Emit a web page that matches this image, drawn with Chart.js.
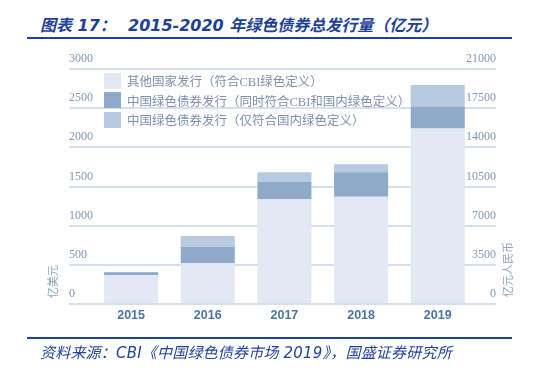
<!DOCTYPE html>
<html>
<head>
<meta charset="utf-8">
<script src="https://cdn.jsdelivr.net/npm/chart.js@4/dist/chart.umd.min.js"></script>
<style>
  body { margin: 0; background: #fff; }
  #wrap { position: relative; width: 550px; height: 368px; overflow: hidden; }
  #chart-box { position: absolute; left: 0; top: 0; width: 550px; height: 368px; }
  .rule { position: absolute; left: 27px; width: 485px; height: 2px; background: #1b3f9c; }
  .title { position: absolute; top: 12px; height: 22px; line-height: 22px; white-space: nowrap;
    font: italic bold 16px "DejaVu Sans", "Noto Sans CJK SC", sans-serif; color: #1d3f95; }
  #source { position: absolute; left: 40px; top: 341px; line-height: 20px; white-space: nowrap; letter-spacing: 0.2px;
    font: italic 15px "DejaVu Sans", "Noto Sans CJK SC", sans-serif; color: #2343a0; }
  #legend { position: absolute; left: 104px; top: 71px; }
  .lg-row { display: flex; align-items: center; height: 19.5px; }
  .lg-box { width: 17px; height: 16px; margin-right: 6px; }
  .lg-text { font: 12.5px "Liberation Serif", "Noto Sans CJK SC", serif; color: #7d91b4; white-space: nowrap; }
</style>
</head>
<body>
<div id="wrap">
  <div class="title" style="left:40px">图表 17：</div>
  <div class="title" style="left:128px">2015-2020 年绿色债券总发行量（亿元）</div>
  <div class="rule" style="top:37px"></div>
  <div id="chart-box"><canvas id="chart"></canvas></div>
  <div id="legend"></div>
  <div class="rule" style="top:337px"></div>
  <div id="source">资料来源：CBI《中国绿色债券市场 2019》，国盛证券研究所</div>
</div>
<script>
// 数据（亿美元）
const years = ['2015', '2016', '2017', '2018', '2019'];
const otherCountries = [370, 520, 1337, 1370, 2239];
const chinaBoth = [35, 212, 221, 312, 281];
const chinaDomesticOnly = [4, 136, 124, 102, 277];

const seriesNames = [
    '其他国家发行（符合CBI绿色定义）',
    '中国绿色债券发行（同时符合CBI和国内绿色定义）',
    '中国绿色债券发行（仅符合国内绿色定义）'
];
const seriesColors = ['#e2e9f3', '#8eaac9', '#b8cae0'];

const leftTicks = [0, 500, 1000, 1500, 2000, 2500, 3000];
const rightTicks = [0, 3500, 7000, 10500, 14000, 17500, 21000];
const leftTitle = '亿美元';
const rightTitle = '亿元人民币';

// 两侧竖排单位（从下往上读）
const axisTitles = {
    id: 'axisTitles',
    afterDraw(chart) {
        const ctx = chart.ctx;
        const area = chart.chartArea;
        ctx.save();
        ctx.font = '11px "Noto Sans CJK SC", sans-serif';
        ctx.fillStyle = '#8ea3c6';
        ctx.textAlign = 'left';
        ctx.textBaseline = 'middle';
        [[leftTitle, area.left - 16, area.bottom - 6], [rightTitle, area.right + 12, area.bottom - 7]].forEach(([text, x, y]) => {
            ctx.save();
            ctx.translate(x, y);
            ctx.rotate(-Math.PI / 2);
            ctx.fillText(text, 0, 0);
            ctx.restore();
        });
        ctx.restore();
    }
};

const chart = new Chart(document.getElementById('chart'), {
    type: 'bar',
    data: {
        labels: years,
        datasets: [otherCountries, chinaBoth, chinaDomesticOnly].map((values, i) => ({
            label: seriesNames[i],
            data: values,
            backgroundColor: seriesColors[i],
            borderWidth: 0,
            categoryPercentage: 1,
            barPercentage: 0.705
        }))
    },
    options: {
        responsive: true,
        maintainAspectRatio: false,
        animation: false,
        layout: { padding: { left: 69, right: 54, top: 69, bottom: 41 } },
        scales: {
            x: {
                type: 'linear',
                stacked: true,
                offset: false,
                min: 2014.19,
                max: 2019.76,
                afterBuildTicks: axis => { axis.ticks = years.map(y => ({ value: +y })); },
                grid: { display: false, drawTicks: false },
                border: { display: false },
                ticks: {
                    autoSkip: false,
                    maxRotation: 0,
                    padding: 4,
                    color: '#4d73a5',
                    font: { family: '"Liberation Sans", sans-serif', size: 12.5, weight: 'bold' },
                    callback: value => String(value)
                }
            },
            y: {
                position: 'left',
                stacked: true,
                min: 0,
                max: 3000,
                afterBuildTicks: axis => { axis.ticks = leftTicks.map(v => ({ value: v })); },
                grid: { color: '#d5dfed', lineWidth: 2, drawTicks: false },
                border: { display: false },
                ticks: {
                    mirror: true,
                    padding: 0,
                    labelOffset: -10,
                    color: '#8397b9',
                    font: { family: '"Liberation Serif", serif', size: 12 },
                    callback: value => String(value)
                }
            },
            y2: {
                position: 'right',
                min: 0,
                max: 21000,
                afterBuildTicks: axis => { axis.ticks = rightTicks.map(v => ({ value: v })); },
                grid: { display: false, drawTicks: false },
                border: { display: false },
                ticks: {
                    mirror: true,
                    padding: 0,
                    labelOffset: -10,
                    color: '#8397b9',
                    font: { family: '"Liberation Serif", serif', size: 12 },
                    callback: value => String(value)
                }
            }
        },
        plugins: {
            legend: { display: false },
            tooltip: { enabled: false }
        }
    },
    plugins: [axisTitles]
});

// 图例
const legendEl = document.getElementById('legend');
chart.data.datasets.forEach(ds => {
    const row = document.createElement('div');
    row.className = 'lg-row';
    row.innerHTML = '<span class="lg-box" style="background:' + ds.backgroundColor + '"></span><span class="lg-text">' + ds.label + '</span>';
    legendEl.appendChild(row);
});
</script>
</body>
</html>
